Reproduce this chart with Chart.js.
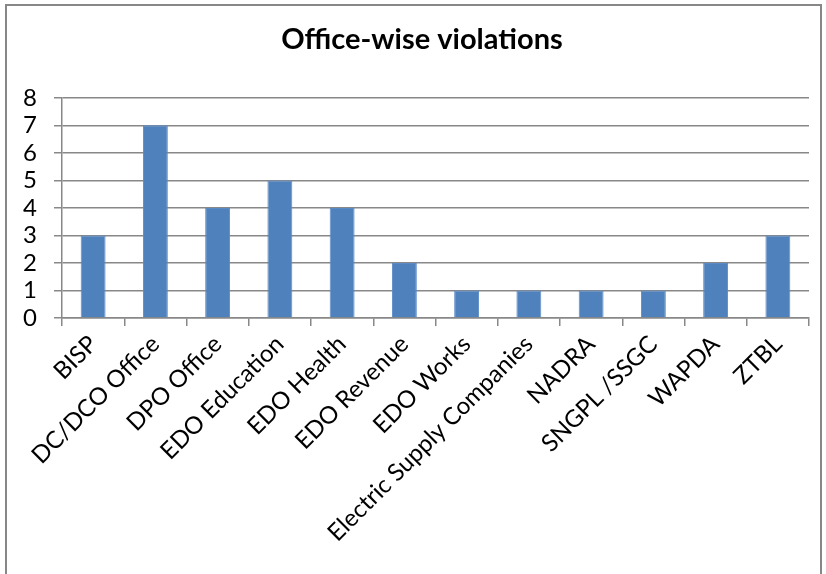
<!DOCTYPE html>
<html>
<head>
<meta charset="utf-8">
<script src="https://cdn.jsdelivr.net/npm/chart.js@4"></script>
<style>
  html, body { margin: 0; padding: 0; background: #fff; overflow: hidden; }
  #frame {
    position: absolute; left: 5px; top: 4px; width: 813px; height: 700px;
    border: 2px solid #878787;
  }
  #wrap { position: absolute; left: 0; top: 0; width: 826px; height: 574px; }
</style>
</head>
<body>
<div id="frame"></div>
<div id="wrap"><canvas id="violations"></canvas></div>
<script>
  const offices = [
    "BISP", "DC/DCO Office", "DPO Office", "EDO Education", "EDO Health",
    "EDO Revenue", "EDO Works", "Electric Supply Companies", "NADRA",
    "SNGPL /SSGC", "WAPDA", "ZTBL"
  ];
  const violations = [3, 7, 4, 5, 4, 2, 1, 1, 1, 1, 2, 3];
  const yTicks = [0, 1, 2, 3, 4, 5, 6, 7, 8];

  const gridGray = "#888888";
  const font = "Lato";

  // nudge the title a bit right so it sits centred over the frame
  const shiftTitle = {
    id: "shiftTitle",
    afterLayout: (chart) => {
      if (chart.titleBlock) chart.titleBlock.left += 35;
    },
  };

  const ctx = document.getElementById("violations").getContext("2d");
  const myChart = new Chart(ctx, {
    type: "bar",
    data: {
      labels: offices,
      datasets: [
        {
          label: "Violations",
          data: violations,
          backgroundColor: "#4F81BD",
          borderColor: "#5B8BC6",
          borderWidth: 1,
          categoryPercentage: 1,
          barPercentage: 0.4,
        },
      ],
    },
    plugins: [shiftTitle],
    options: {
      responsive: true,
      maintainAspectRatio: false,
      animation: false,
      layout: { padding: { left: 0, right: 17, top: 0, bottom: 0 } },
      plugins: {
        legend: { display: false },
        tooltip: { enabled: false },
        title: {
          display: true,
          text: "Office-wise violations",
          color: "#000",
          font: { family: font, size: 29, weight: "bold" },
          padding: { top: 22, bottom: 41 },
        },
      },
      scales: {
        x: {
          grid: {
            offset: true,
            drawOnChartArea: false,
            drawTicks: true,
            tickLength: 8,
            color: gridGray,
            lineWidth: 1.5,
          },
          border: { color: gridGray, width: 1.5 },
          ticks: {
            color: "#000",
            font: { family: font, size: 24 },
            minRotation: 45,
            maxRotation: 45,
            autoSkip: false,
            padding: 4,
          },
          afterFit: (scale) => {
            scale.height = 256;
          },
        },
        y: {
          min: 0,
          max: 8,
          afterBuildTicks: (scale) => {
            scale.ticks = yTicks.map((v) => ({ value: v }));
          },
          grid: {
            color: gridGray,
            lineWidth: 1.5,
            drawTicks: true,
            tickLength: 8,
          },
          border: { color: gridGray, width: 1.5 },
          ticks: {
            color: "#000",
            font: { family: font, size: 24 },
            autoSkip: false,
            stepSize: 1,
            padding: 17,
          },
          afterFit: (scale) => {
            scale.width = 62;
          },
        },
      },
    },
  });
</script>
</body>
</html>
